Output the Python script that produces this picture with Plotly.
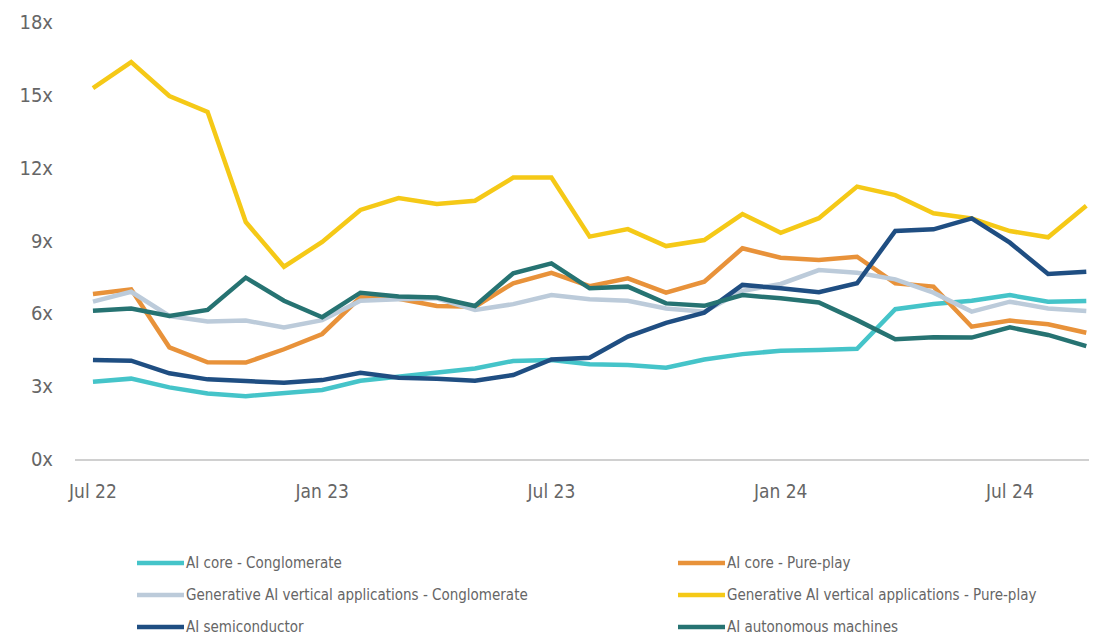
import plotly.graph_objects as go

months = ["Jul 22","Aug 22","Sep 22","Oct 22","Nov 22","Dec 22","Jan 23","Feb 23","Mar 23","Apr 23","May 23","Jun 23",
          "Jul 23","Aug 23","Sep 23","Oct 23","Nov 23","Dec 23","Jan 24","Feb 24","Mar 24","Apr 24","May 24","Jun 24",
          "Jul 24","Aug 24","Sep 24"]

ai_core_conglomerate = [3.18,3.31,2.95,2.70,2.59,2.70,2.84,3.22,3.39,3.60,3.73,4.04,4.08,3.90,3.87,3.76,4.10,4.32,
                        4.46,4.49,4.54,6.17,6.38,6.52,6.75,6.48,6.51]
ai_core_pureplay = [6.80,6.99,4.60,3.98,3.97,4.52,5.15,6.66,6.60,6.30,6.27,7.24,7.67,7.12,7.44,6.85,7.30,8.68,
                    8.29,8.20,8.33,7.24,7.10,5.45,5.70,5.55,5.20]
genai_conglomerate = [6.48,6.89,5.89,5.66,5.70,5.42,5.72,6.52,6.58,6.62,6.14,6.38,6.75,6.58,6.52,6.20,6.07,6.92,
                      7.21,7.78,7.67,7.40,6.85,6.07,6.48,6.20,6.10]
genai_pureplay = [15.28,16.35,14.95,14.30,9.76,7.92,8.94,10.26,10.75,10.50,10.64,11.59,11.59,9.16,9.47,8.77,9.02,10.09,
                  9.32,9.92,11.22,10.87,10.12,9.91,9.39,9.13,10.43]
ai_semiconductor = [4.08,4.05,3.53,3.28,3.21,3.14,3.25,3.55,3.35,3.31,3.22,3.46,4.10,4.17,5.04,5.61,6.03,7.17,
                    7.03,6.87,7.24,9.39,9.46,9.91,8.91,7.62,7.71]
ai_autonomous = [6.11,6.20,5.89,6.14,7.47,6.52,5.84,6.85,6.69,6.65,6.30,7.65,8.06,7.03,7.10,6.41,6.31,6.75,
                 6.62,6.45,5.72,4.93,5.01,5.00,5.42,5.11,4.65]

series_names = ["AI core - Conglomerate", "AI core - Pure-play",
                "Generative AI vertical applications - Conglomerate", "Generative AI vertical applications - Pure-play",
                "AI semiconductor", "AI autonomous machines"]
series_values = [ai_core_conglomerate, ai_core_pureplay, genai_conglomerate, genai_pureplay, ai_semiconductor, ai_autonomous]
colors = ["#45C4C9", "#E8923A", "#BCCBDA", "#F5C917", "#1F4E82", "#267372"]

tick_months = ["Jul 22", "Jan 23", "Jul 23", "Jan 24", "Jul 24"]
y_ticks = [0, 3, 6, 9, 12, 15, 18]
y_tick_labels = ["0x", "3x", "6x", "9x", "12x", "15x", "18x"]

FONT = "DejaVu Sans Condensed, Liberation Sans Narrow, Arial Narrow, sans-serif"
TXT = "#666666"

# page has an 8px body margin; figure is sized to fit inside the window
OFF = 8
W, H = 1097 - OFF, 637 - OFF
ML, MR, MT, MB = 75 - OFF, 0, 22 - OFF, 178
PW, PH = W - ML - MR, H - MT - MB

def px_x(p):  # absolute window pixel -> paper fraction
    return (p - OFF - ML) / PW

def px_y(p):
    return (H - MB - (p - OFF)) / PH

fig = go.Figure()
x_idx = list(range(len(months)))
for i in range(len(series_names)):
    fig.add_trace(go.Scatter(
        x=x_idx, y=series_values[i], name=series_names[i], mode="lines",
        line=dict(color=colors[i], width=4.5), showlegend=False, hoverinfo="skip"))

# manual two-column legend
col_x = [137, 678]
row_y = [563, 595, 627]
for i, name in enumerate(series_names):
    cx = col_x[i % 2]
    ry = row_y[i // 2]
    fig.add_shape(type="line", xref="paper", yref="paper",
                  x0=px_x(cx), x1=px_x(cx + 47), y0=px_y(ry), y1=px_y(ry),
                  line=dict(color=colors[i], width=4.5))
    fig.add_annotation(xref="paper", yref="paper", x=px_x(cx + 47), y=px_y(ry),
                       xanchor="left", yanchor="middle", showarrow=False,
                       text=name, font=dict(family=FONT, size=15, color=TXT))

fig.update_layout(
    width=W, height=H,
    margin=dict(l=ML, r=MR, t=MT, b=MB),
    paper_bgcolor="white", plot_bgcolor="white",
    font=dict(family=FONT, color=TXT),
    showlegend=False,
    xaxis=dict(
        range=[-0.47, 26.28],
        tickvals=[months.index(m) for m in tick_months], ticktext=tick_months,
        showgrid=False, zeroline=False, showline=True, linecolor="#D0D0D0", linewidth=2,
        ticks="", tickfont=dict(family=FONT, size=19, color=TXT), ticklabelstandoff=14,
    ),
    yaxis=dict(
        range=[0, 18], tickvals=y_ticks, ticktext=y_tick_labels,
        showgrid=False, zeroline=False, showline=False, ticks="",
        tickfont=dict(family=FONT, size=20, color=TXT), ticklabelstandoff=21,
    ),
)

fig.write_html("out.html")
